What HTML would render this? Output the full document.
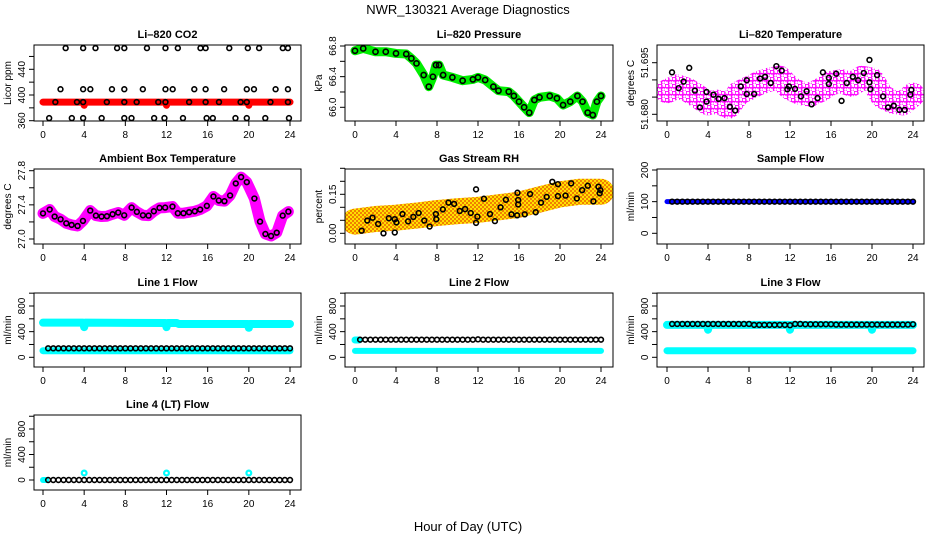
<!DOCTYPE html>
<html><head><meta charset="utf-8"><style>
body{margin:0;background:#fff}
svg{display:block;font-family:"Liberation Sans",Arial,sans-serif}
.tl{font-size:11px;font-weight:bold;text-anchor:middle}
.tk{font-size:10px;text-anchor:middle}
</style></head><body>
<svg id="c" width="936" height="540" viewBox="0 0 936 540">
<defs><pattern id="rhpat" width="4" height="4" patternUnits="userSpaceOnUse"><rect width="4" height="4" fill="#ffe000"/><rect width="2" height="2" fill="#f08000"/><rect x="2" y="2" width="2" height="2" fill="#f08000"/></pattern>
<pattern id="tpat" width="7" height="7" patternUnits="userSpaceOnUse"><rect width="7" height="7" fill="#fff"/><circle cx="2" cy="2" r="2" fill="none" stroke="#ff00ff" stroke-width="1.4"/><circle cx="5.5" cy="5.5" r="2" fill="none" stroke="#ff00ff" stroke-width="1.4"/></pattern></defs>
<text x="468" y="14" font-size="13" text-anchor="middle">NWR_130321  Average Diagnostics</text>
<text x="468" y="531" font-size="13" text-anchor="middle">Hour of Day (UTC)</text>
</svg>
<script>
const xTicks=[0,4,8,12,16,20,24];
const halfHours=[0.5,1,1.5,2,2.5,3,3.5,4,4.5,5,5.5,6,6.5,7,7.5,8,8.5,9,9.5,10,10.5,11,11.5,12,12.5,13,13.5,14,14.5,15,15.5,16,16.5,17,17.5,18,18.5,19,19.5,20,20.5,21,21.5,22,22.5,23,23.5,24];
// CO2
const co2Hours=[2.2,3.9,5.1,7.2,7.9,10.1,11.9,13.1,15.3,15.8,18.1,19.9,21.0,23.3,23.8,1.7,3.9,4.6,6.7,7.9,9.7,11.9,12.6,14.7,15.8,17.6,19.8,20.5,22.6,23.8,1.2,3.3,3.9,6.2,7.9,9.1,11.2,11.9,14.2,15.8,17.1,19.2,19.8,22.1,23.8,0.6,2.8,3.9,5.7,7.9,8.6,10.8,11.8,13.6,15.9,16.5,18.7,19.8,21.6,23.9];
const co2Vals=[473,473,473,473,473,473,473,473,473,473,473,473,473,473,473,409,409,409,409,409,409,409,409,409,409,409,409,409,409,409,389,389,389,389,389,389,389,389,389,389,389,389,389,389,389,364,364,364,364,364,364,364,364,364,364,364,364,364,364,364];
const co2BandHours=[0,3.9,4,4.1,11.9,12,12.1,19.9,20,20.1,24];
const co2BandVals=[389,389,384,389,389,384,389,389,384,389,389];
// Pressure
const presHours=[0,0.8,2,3,4,5,5.5,6,6.7,7.2,7.6,7.9,8.2,8.6,9.5,10.5,11.5,12,12.7,13.5,14,15,15.5,16,16.5,17,17.5,18,19,19.7,20.3,21,21.7,22.2,22.7,23.2,23.6,24];
const presVals=[66.738,66.768,66.725,66.725,66.703,66.695,66.638,66.573,66.421,66.269,66.399,66.551,66.551,66.421,66.390,66.347,66.364,66.390,66.356,66.269,66.217,66.204,66.148,66.074,66.0,65.930,66.095,66.130,66.148,66.117,66.030,66.074,66.148,66.074,65.930,65.899,66.074,66.148];
// Li-820 temperature
const tempBandHours=[0,1,2,3,4,5,6,7,8,9,10,11,12,13,14,15,16,17,18,19,20,21,22,23,24];
const tempBandVals=[51.6867,51.6881,51.6871,51.6852,51.6832,51.6837,51.6822,51.6862,51.6876,51.6891,51.6901,51.6906,51.6876,51.6862,51.6857,51.6871,51.6891,51.6896,51.6886,51.6906,51.6901,51.6852,51.6837,51.6832,51.6857];
const tempHours=[0.49,1.14,1.62,2.17,2.72,3.21,3.86,3.86,4.54,5.03,5.61,6.13,6.65,7.20,7.78,7.78,8.50,9.08,9.57,10.12,10.67,11.19,11.74,11.90,12.49,13.07,13.62,14.11,14.69,15.21,15.79,15.79,16.51,17.03,17.54,18.13,18.65,19.20,19.75,19.75,19.85,20.50,21.08,21.57,22.12,22.67,23.19,23.74,23.84];
const tempVals=[51.6922,51.6876,51.6895,51.6935,51.6869,51.6820,51.6837,51.6865,51.6857,51.6845,51.6847,51.6822,51.6811,51.6881,51.6899,51.6859,51.6859,51.6904,51.6909,51.6891,51.6940,51.6927,51.6873,51.6881,51.6874,51.6852,51.6867,51.6829,51.6847,51.6922,51.6888,51.6906,51.6918,51.6839,51.6891,51.6909,51.6899,51.6920,51.6958,51.6893,51.6873,51.6914,51.6852,51.6820,51.6825,51.6813,51.6813,51.6857,51.6871];
// Ambient box temperature
const ambHours=[0,0.65,1.13,1.71,2.26,2.78,3.36,3.88,4.59,5.14,5.69,6.21,6.76,7.31,7.89,8.61,9.12,9.71,10.26,10.77,11.32,11.87,12.58,13.10,13.65,14.20,14.75,15.27,15.92,16.56,17.08,17.63,18.18,18.73,19.25,19.80,20.54,21.09,21.61,22.16,22.71,23.29,23.84];
const ambVals=[27.30,27.345,27.263,27.231,27.184,27.165,27.153,27.212,27.333,27.274,27.263,27.267,27.290,27.310,27.278,27.368,27.318,27.278,27.274,27.325,27.365,27.368,27.380,27.302,27.302,27.314,27.325,27.345,27.388,27.498,27.451,27.443,27.510,27.651,27.725,27.666,27.474,27.204,27.059,27.035,27.074,27.274,27.321];
// Gas stream RH
const rhBandHours=[0,2,4,6,8,10,12,14,16,18,20,22,24];
const rhBandVals=[0.045,0.055,0.060,0.068,0.078,0.085,0.090,0.100,0.110,0.130,0.150,0.160,0.160];
const rhHours=[0.65,1.2,1.71,2.26,2.78,3.3,3.88,3.88,4.04,4.63,5.18,5.69,6.21,6.76,7.28,7.89,7.93,8.57,9.12,9.67,10.22,10.74,11.29,11.81,11.81,11.94,12.58,13.17,13.65,14.2,14.72,15.27,15.82,15.85,15.92,15.92,16.56,17.08,17.63,18.15,18.7,19.25,19.8,19.8,20.54,21.09,21.64,22.16,22.71,23.26,23.75,23.87,23.94];
const rhVals=[0.010,0.049,0.060,0.036,0.000,0.058,0.003,0.054,0.042,0.074,0.046,0.063,0.078,0.049,0.026,0.074,0.054,0.092,0.118,0.113,0.086,0.093,0.078,0.169,0.040,0.064,0.133,0.074,0.047,0.100,0.129,0.073,0.069,0.156,0.128,0.111,0.073,0.151,0.081,0.118,0.140,0.198,0.189,0.143,0.145,0.192,0.134,0.166,0.183,0.123,0.179,0.154,0.166];
// Flows
const sampleVals=[100,100,100,100,100,100,100,100,100,100,100,100,100,100,100,100,100,100,100,100,100,100,100,100,100,100,100,100,100,100,100,100,100,100,100,100,100,100,100,100,100,100,100,100,100,100,100,100];
const line1Vals=[140,140,140,140,140,140,140,140,140,140,140,140,140,140,140,140,140,140,140,140,140,140,140,140,140,140,140,140,140,140,140,140,140,140,140,140,140,140,140,140,140,140,140,140,140,140,140,140];
const line2Vals=[275,275,275,275,275,275,275,275,275,275,275,275,275,275,275,275,275,275,275,275,275,275,275,280,275,275,275,275,275,275,275,275,275,275,275,275,275,275,275,275,275,275,275,275,275,275,275,275];
const line3Vals=[520,520,520,520,520,520,520,520,520,520,520,520,520,520,520,520,505,505,505,505,505,505,505,500,520,520,515,515,515,515,515,515,510,510,510,510,510,510,510,510,510,510,510,510,510,510,510,515];
const line4Vals=[0,0,0,0,0,0,0,0,0,0,0,0,0,0,0,0,0,0,0,0,0,0,0,0,0,0,0,0,0,0,0,0,0,0,0,0,0,0,0,0,0,0,0,0,0,0,0,0];
const line1UpHours=[0,3.9,4,4.1,11.9,12,12.1,13,13.2,19.9,20,20.1,24];
const line1UpVals=[540,540,470,540,535,470,535,535,520,520,460,520,520];
const line3UpHours=[0,3.9,4,4.1,11.9,12,12.1,19.9,20,20.1,24];
const line3UpVals=[505,505,430,505,505,430,505,505,430,505,505];
const lowHours=[0,24];
const lowVals=[103,103];
const line4BumpHours=[4,12,20];
const line4BumpVals=[110,110,110];

const NS='http://www.w3.org/2000/svg';
const svg=document.getElementById('c');
const boxL=[34,345,657],boxR=[301,613,924],x0s=[43,355,667],x24s=[290,601,913];
const boxT=[45,169,293,415],boxB=[121,244,367,490];
function el(tag,attrs,parent){const e=document.createElementNS(NS,tag);for(const k in attrs)e.setAttribute(k,attrs[k]);(parent||svg).appendChild(e);return e;}
let pid=0;
function panel(p){
  const L=boxL[p.col],R=boxR[p.col],T=boxT[p.row],B=boxB[p.row];
  const g=el('g',{});
  
  
  const xs=h=>x0s[p.col]+h*(x24s[p.col]-x0s[p.col])/24;
  const ys=v=>p.yp[0]+(v-p.yv[0])*(p.yp[1]-p.yp[0])/(p.yv[1]-p.yv[0]);
  const cid='clip'+(pid++);
  const cp=el('clipPath',{id:cid},g);el('rect',{x:L,y:T,width:R-L,height:B-T},cp);
  const plot=el('g',{'clip-path':'url(#'+cid+')'},g);
  
  
  const t=el('text',{x:(L+R)/2,y:T-7,class:'tl'},g);t.textContent=p.title;
  
  
  const box=el('rect',{x:L,y:T,width:R-L,height:B-T,fill:'none',stroke:'#000','stroke-width':1},g);
  
  
  xTicks.forEach(h=>{const x=xs(h);el('line',{x1:x,y1:B,x2:x,y2:B+5,stroke:'#000'},g);
    const tx=el('text',{x:x,y:B+17,class:'tk'},g);tx.textContent=h;
    
    });
  p.ticks.forEach(v=>{const y=ys(v);el('line',{x1:L,y1:y,x2:L-5,y2:y,stroke:'#000'},g);});
  el('line',{x1:L,y1:ys(p.ticks[0]),x2:L,y2:ys(p.ticks[p.ticks.length-1]),stroke:'#000'},g);
  p.labels.forEach((s,i)=>{const y=ys(p.labelVals[i]);const tx=el('text',{x:L-9,y:y,class:'tk',transform:'rotate(-90 '+(L-9)+' '+y+')'},g);tx.textContent=s;
    
    });
  const yt=el('text',{x:L-23,y:(T+B)/2,class:'tk',transform:'rotate(-90 '+(L-23)+' '+((T+B)/2)+')'},g);yt.textContent=p.ytitle;
  
  
  (p.bands||[]).forEach(b=>{const pl=el('polyline',{points:b.h.map((h,i)=>xs(h)+','+ys(b.v[i])).join(' '),fill:'none',stroke:b.c,'stroke-width':b.w,'stroke-linejoin':'round','stroke-linecap':'round'},plot);
    
    });
  (p.pts||[]).forEach(s=>{s.h.forEach((h,i)=>{const c=el('circle',{cx:xs(h),cy:ys(s.v[i]),r:s.r||2.4,fill:'none',stroke:s.c,'stroke-width':s.sw||1.6},plot);
    
    });});
}
const flowTicks=[0,200,400,600,800,1000];
panel({name:'co2',title:'Li\u2013820 CO2',ytitle:'Licor ppm',col:0,row:0,yv:[360,440],yp:[120.7,69.3],ticks:[360,380,400,420,440,460],labels:['360','400','440'],labelVals:[360,400,440],
  bands:[{h:co2BandHours,v:co2BandVals,c:'#ff0000',w:7}],pts:[{h:co2Hours,v:co2Vals,c:'#000'}]});
panel({name:'pressure',title:'Li\u2013820 Pressure',ytitle:'kPa',col:1,row:0,yv:[66.0,66.8],yp:[107.3,46],ticks:[66.0,66.2,66.4,66.6,66.8],labels:['66.0','66.4','66.8'],labelVals:[66.0,66.4,66.8],
  bands:[{h:presHours,v:presVals,c:'#00ee00',w:9}],pts:[{h:presHours,v:presVals,c:'#000',r:2.6}]});
panel({name:'li820-temp',title:'Li\u2013820 Temperature',ytitle:'degrees C',col:2,row:0,yv:[51.680,51.695],yp:[114.3,62.7],ticks:[51.680,51.685,51.690,51.695],labels:['51.680','51.695'],labelVals:[51.680,51.695],
  bands:[{h:tempBandHours,v:tempBandVals,c:'url(#tpat)',w:24}],pts:[{h:tempHours,v:tempVals,c:'#000'}]});
panel({name:'ambient-temp',title:'Ambient Box Temperature',ytitle:'degrees C',col:0,row:1,yv:[27.0,27.8],yp:[239,170.7],ticks:[27.0,27.2,27.4,27.6,27.8],labels:['27.0','27.4','27.8'],labelVals:[27.0,27.4,27.8],
  bands:[{h:ambHours,v:ambVals,c:'#ff00ff',w:11}],pts:[{h:ambHours,v:ambVals,c:'#000'}]});
panel({name:'gas-rh',title:'Gas Stream RH',ytitle:'percent',col:1,row:1,yv:[0,0.15],yp:[233.3,194.3],ticks:[0,0.05,0.10,0.15,0.20,0.25],labels:['0.00','0.15'],labelVals:[0,0.15],
  bands:[{h:rhBandHours,v:rhBandVals,c:'url(#rhpat)',w:26}],pts:[{h:rhHours,v:rhVals,c:'#000'}]});
panel({name:'sample-flow',title:'Sample Flow',ytitle:'ml/min',col:2,row:1,yv:[0,200],yp:[233.3,170],ticks:[0,50,100,150,200],labels:['0','100','200'],labelVals:[0,100,200],
  bands:[{h:lowHours,v:[100,100],c:'#0000ff',w:5}],pts:[{h:halfHours,v:sampleVals,c:'#000'}]});
panel({name:'line1-flow',title:'Line 1 Flow',ytitle:'ml/min',col:0,row:2,yv:[0,800],yp:[357.3,306],ticks:flowTicks,labels:['0','400','800'],labelVals:[0,400,800],
  bands:[{h:line1UpHours,v:line1UpVals,c:'#00ffff',w:8},{h:lowHours,v:lowVals,c:'#00ffff',w:7}],pts:[{h:halfHours,v:line1Vals,c:'#000'}]});
panel({name:'line2-flow',title:'Line 2 Flow',ytitle:'ml/min',col:1,row:2,yv:[0,800],yp:[357.3,306],ticks:flowTicks,labels:['0','400','800'],labelVals:[0,400,800],
  bands:[{h:[0,0.4],v:[270,270],c:'#00ffff',w:7},{h:lowHours,v:[100,100],c:'#00ffff',w:6}],pts:[{h:halfHours,v:line2Vals,c:'#000'}]});
panel({name:'line3-flow',title:'Line 3 Flow',ytitle:'ml/min',col:2,row:2,yv:[0,800],yp:[357.3,306],ticks:flowTicks,labels:['0','400','800'],labelVals:[0,400,800],
  bands:[{h:line3UpHours,v:line3UpVals,c:'#00ffff',w:8},{h:lowHours,v:lowVals,c:'#00ffff',w:7}],pts:[{h:halfHours,v:line3Vals,c:'#000'}]});
panel({name:'line4-flow',title:'Line 4 (LT) Flow',ytitle:'ml/min',col:0,row:3,yv:[0,800],yp:[480,429],ticks:flowTicks,labels:['0','400','800'],labelVals:[0,400,800],
  bands:[{h:[0,0.3],v:[0,0],c:'#00ffff',w:6}],pts:[{h:line4BumpHours,v:line4BumpVals,c:'#00ffff',sw:2.2},{h:halfHours,v:line4Vals,c:'#000'}]});
</script>
</body></html>
